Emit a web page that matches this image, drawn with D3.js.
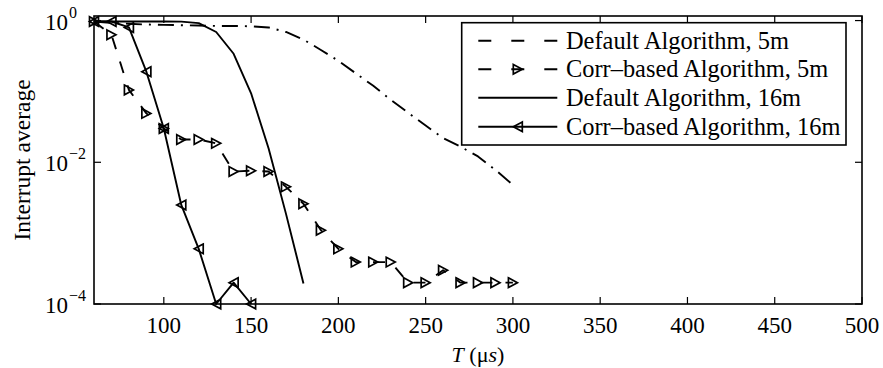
<!DOCTYPE html>
<html><head><meta charset="utf-8">
<script src="https://cdn.jsdelivr.net/npm/d3@7"></script>
<style>
html,body{margin:0;padding:0;background:#fff;}
text{font-family:"Liberation Serif","Times New Roman",serif;fill:#000;}
</style></head>
<body><svg id="c" width="883" height="368"></svg>
<script>
// ---- data ----
const tValues = [60,70,80,90,100,110,120,130,140,150,160,170,180,190,200,210,220,230,240,250,260,270,280,290,300];
const default5m = [0.97,0.93,0.9,0.88,0.87,0.86,0.85,0.84,0.84,0.83,0.8,0.69,0.54,0.385,0.27,0.18,0.12,0.076,0.05,0.033,0.022,0.0166,0.0121,0.0078,0.0048];
const corr5m = [0.97,0.63,0.105,0.049,0.030,0.021,0.021,0.0185,0.0074,0.0076,0.0074,0.0045,0.0026,0.0011,0.0006,0.00039,0.00039,0.00039,0.0002,0.0002,0.0003,0.0002,0.0002,0.0002,0.0002];
const t16 = [60,70,80,90,100,110,120,130,140,150,160,170,180];
const default16m = [0.97,0.97,0.97,0.97,0.97,0.965,0.92,0.69,0.34,0.094,0.0158,0.00187,0.000195];
const tCorr16 = [60,70,80,90,100,110,120,130,140,150];
const corr16m = [0.97,0.97,0.8,0.19,0.030,0.0025,0.0006,0.0001,0.0002,0.0001];
const xTicks = [100,150,200,250,300,350,400,450,500];
const yTicks = [1e-4,1e-2,1];
const yTickExp = ["−4","−2","0"];
const legendLabels = ["Default Algorithm, 5m","Corr\u2013based Algorithm, 5m","Default Algorithm, 16m","Corr\u2013based Algorithm, 16m"];

// ---- layout ----
const L=94, R=862, T=16, B=304;
const svg = d3.select("#c");
const x = d3.scaleLinear().domain([60,500]).range([L,R]);
const y = d3.scaleLog().domain([1e-4,1.16]).range([B,T]);

const series = [
  {xs:tValues, ys:default5m, dash:"16,7,2,7", marker:null},
  {xs:tValues, ys:corr5m, dash:"12,13", marker:"right"},
  {xs:t16, ys:default16m, dash:null, marker:null},
  {xs:tCorr16, ys:corr16m, dash:null, marker:"left"}
];

function tri(dir){
  const w=4.5,h=4.8;
  return dir==="right" ? `M${-w},${-h}L${w},0L${-w},${h}Z` : `M${w},${-h}L${-w},0L${w},${h}Z`;
}

const line = d3.line().x(d=>x(d[0])).y(d=>y(d[1]));
const g = svg.append("g");
series.forEach(s=>{
  const pts = s.xs.map((v,i)=>[v,s.ys[i]]);
  g.append("path").attr("d",line(pts)).attr("fill","none").attr("stroke","#000")
    .attr("stroke-width",1.9).attr("stroke-dasharray",s.dash||null).attr("stroke-linejoin","round");
  if(s.marker){
    g.selectAll(null).data(pts).enter().append("path")
      .attr("transform",d=>`translate(${x(d[0])},${y(d[1])})`)
      .attr("d",tri(s.marker)).attr("fill","none").attr("stroke","#000").attr("stroke-width",1.7)
      .attr("stroke-linejoin","miter");
  }
});

// ---- axes box ----
const ax = svg.append("g");
ax.append("rect").attr("x",L).attr("y",T).attr("width",R-L).attr("height",B-T)
  .attr("fill","none").attr("stroke","#000").attr("stroke-width",1.6);
xTicks.forEach(v=>{
  ax.append("line").attr("x1",x(v)).attr("x2",x(v)).attr("y1",B).attr("y2",B-7).attr("stroke","#000").attr("stroke-width",1.2);
  ax.append("line").attr("x1",x(v)).attr("x2",x(v)).attr("y1",T).attr("y2",T+7).attr("stroke","#000").attr("stroke-width",1.2);
  ax.append("text").attr("x",x(v)).attr("y",333).attr("text-anchor","middle").attr("font-size",23).text(v);
});
yTicks.forEach((v,i)=>{
  ax.append("line").attr("x1",L).attr("x2",L+7).attr("y1",y(v)).attr("y2",y(v)).attr("stroke","#000").attr("stroke-width",1.2);
  ax.append("line").attr("x1",R).attr("x2",R-7).attr("y1",y(v)).attr("y2",y(v)).attr("stroke","#000").attr("stroke-width",1.2);
  ax.append("text").attr("x",68).attr("y",y(v)+9).attr("text-anchor","end").attr("font-size",23).text("10");
  ax.append("text").attr("x",69).attr("y",y(v)-3).attr("text-anchor","start").attr("font-size",16).text(yTickExp[i]);
});

// axis labels
svg.append("text").attr("transform","translate(30,160) rotate(-90)").attr("text-anchor","middle")
  .attr("font-size",23.5).text("Interrupt average");
const xl = svg.append("text").attr("x",478).attr("y",362).attr("text-anchor","middle").attr("font-size",22);
xl.append("tspan").attr("font-style","italic").text("T");
xl.append("tspan").text(" (\u03bc");
xl.append("tspan").attr("font-style","italic").text("s");
xl.append("tspan").text(")");

// ---- legend ----
const lg = svg.append("g");
lg.append("rect").attr("x",461.7).attr("y",22.7).attr("width",846-461.7).attr("height",145-22.7)
  .attr("fill","#fff").attr("stroke","#000").attr("stroke-width",1.6);
const rowY = [40.7,69.3,97.7,126.7];
const legDash = ["13,20","13,20",null,null];
series.forEach((s,i)=>{
  lg.append("line").attr("x1",478.3).attr("x2",557.3).attr("y1",rowY[i]).attr("y2",rowY[i])
    .attr("stroke","#000").attr("stroke-width",1.9).attr("stroke-dasharray",legDash[i]);
  if(s.marker){
    lg.append("path").attr("transform",`translate(517.8,${rowY[i]})`).attr("d",tri(s.marker))
      .attr("fill","none").attr("stroke","#000").attr("stroke-width",1.7);
  }
  lg.append("text").attr("x",566).attr("y",rowY[i]+8).attr("font-size",24.4).text(legendLabels[i]);
});
</script></body></html>
